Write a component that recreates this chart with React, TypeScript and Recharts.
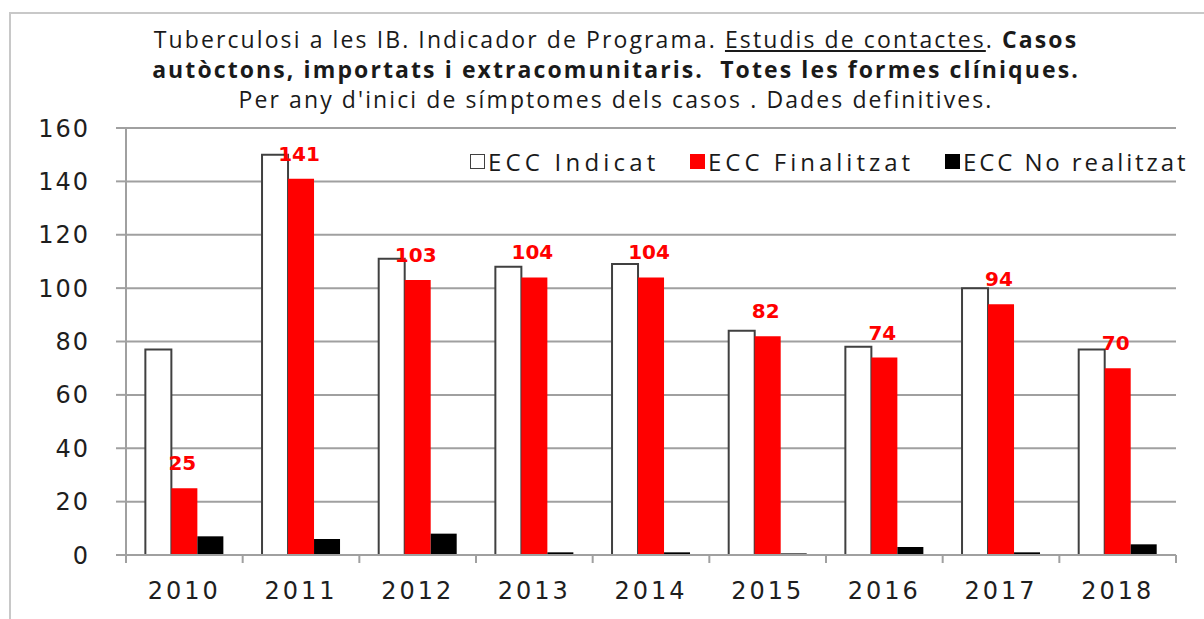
import React from "react";
import { Bar, BarChart, CartesianGrid, LabelList, XAxis, YAxis } from "recharts";

// Anys i valors llegits del grafic original
const years = ["2010", "2011", "2012", "2013", "2014", "2015", "2016", "2017", "2018"];
const indicat = [77, 150, 111, 108, 109, 84, 78, 100, 77];
const finalitzat = [25, 141, 103, 104, 104, 82, 74, 94, 70];
const noRealitzat = [7, 6, 8, 1, 1, 0.6, 3, 1, 4];
const yTicks = [0, 20, 40, 60, 80, 100, 120, 140, 160];

const data = years.map((year, i) => ({
  year,
  indicat: indicat[i],
  finalitzat: finalitzat[i],
  noRealitzat: noRealitzat[i],
}));

const AXIS_FONT = "'DejaVu Sans', Verdana, sans-serif";
const TITLE_FONT = "'Open Sans', 'Liberation Sans', sans-serif";

// Marca de l'eix X entre categories, com a Excel
function YearTick(props: any) {
  const { x, y, payload, index } = props;
  const half = payload && payload.offset ? payload.offset : 58.3;
  return (
    <g>
      <line x1={x - half} x2={x - half} y1={y} y2={y + 8} stroke="#a0a0a0" strokeWidth={2} />
      {index === years.length - 1 && (
        <line x1={x + half} x2={x + half} y1={y} y2={y + 8} stroke="#a0a0a0" strokeWidth={2} />
      )}
      <text
        x={x}
        y={y + 44}
        textAnchor="middle"
        fill="#1e1e1e"
        fontFamily={AXIS_FONT}
        fontSize={24}
        letterSpacing={3}
      >
        {payload.value}
      </text>
    </g>
  );
}

const legendItems = [
  { name: "ECC Indicat", fill: "#ffffff", border: "#404040", left: 470, spacing: 4.2 },
  { name: "ECC Finalitzat", fill: "#ff0000", border: "#ff0000", left: 690, spacing: 4.0 },
  { name: "ECC No realitzat", fill: "#000000", border: "#000000", left: 945, spacing: 2.9 },
];

function LegendBox() {
  return (
    <>
      {legendItems.map((it) => (
        <div
          key={it.name}
          style={{
            position: "absolute",
            left: it.left,
            top: 145,
            display: "flex",
            alignItems: "center",
            fontFamily: TITLE_FONT,
            fontSize: 24,
            letterSpacing: it.spacing,
            color: "#1a1a1a",
            whiteSpace: "nowrap",
          }}
        >
          <span
            style={{
              display: "inline-block",
              width: 13,
              height: 13,
              background: it.fill,
              border: `1.5px solid ${it.border}`,
              marginRight: 3,
            }}
          />
          <span>{it.name}</span>
        </div>
      ))}
    </>
  );
}

export default function App() {
  return (
    <div style={{ position: "absolute", left: 0, top: 0, width: 1204, height: 619, background: "#fff", overflow: "hidden" }}>
      <div
        style={{
          position: "absolute",
          left: 9,
          top: 12,
          width: 1300,
          height: 700,
          borderLeft: "2px solid #c8c8c8",
          borderTop: "2px solid #c8c8c8",
        }}
      />
      <div
        style={{
          position: "absolute",
          left: 0,
          width: 1232,
          top: 24,
          textAlign: "center",
          fontFamily: TITLE_FONT,
          fontSize: 23,
          letterSpacing: 2.1,
          lineHeight: "30px",
          color: "#1a1a1a",
          whiteSpace: "nowrap",
        }}
      >
        <div>
          Tuberculosi a les IB. Indicador de Programa. <span style={{ textDecoration: "underline" }}>Estudis de contactes</span>.{" "}
          <b>Casos</b>
        </div>
        <div style={{ fontWeight: "bold" }}>autòctons, importats i extracomunitaris.&nbsp; Totes les formes clíniques.</div>
        <div>Per any d'inici de símptomes dels casos . Dades definitives.</div>
      </div>
      <div style={{ position: "absolute", left: 0, top: 0 }}>
        <BarChart
          width={1204}
          height={619}
          data={data}
          margin={{ top: 128, right: 28, left: 0, bottom: 0 }}
          barCategoryGap="16.6%"
          barGap={0}
        >
          <CartesianGrid vertical={false} stroke="#a0a0a0" strokeWidth={2} />
          <XAxis
            dataKey="year"
            height={64}
            interval={0}
            tickSize={0}
            tickMargin={0}
            tickLine={false}
            axisLine={{ stroke: "#a0a0a0", strokeWidth: 2 }}
            tick={<YearTick />}
          />
          <YAxis
            width={126}
            domain={[0, 160]}
            ticks={yTicks}
            interval={0}
            tickSize={10}
            tickMargin={26}
            tickLine={{ stroke: "#a0a0a0", strokeWidth: 2 }}
            axisLine={{ stroke: "#a0a0a0", strokeWidth: 2 }}
            tick={{ fill: "#1e1e1e", fontSize: 24, fontFamily: AXIS_FONT, letterSpacing: 2 }}
          />
          <Bar dataKey="indicat" name="ECC Indicat" fill="#ffffff" stroke="#404040" strokeWidth={2} isAnimationActive={false} />
          <Bar dataKey="finalitzat" name="ECC Finalitzat" fill="#ff0000" isAnimationActive={false}>
            <LabelList
              dataKey="finalitzat"
              position="top"
              offset={18}
              dx={-2}
              fill="#ff0000"
              fontWeight="bold"
              fontSize={20}
              fontFamily={AXIS_FONT}
            />
          </Bar>
          <Bar dataKey="noRealitzat" name="ECC No realitzat" fill="#000000" isAnimationActive={false} />
        </BarChart>
      </div>
      <LegendBox />
    </div>
  );
}
